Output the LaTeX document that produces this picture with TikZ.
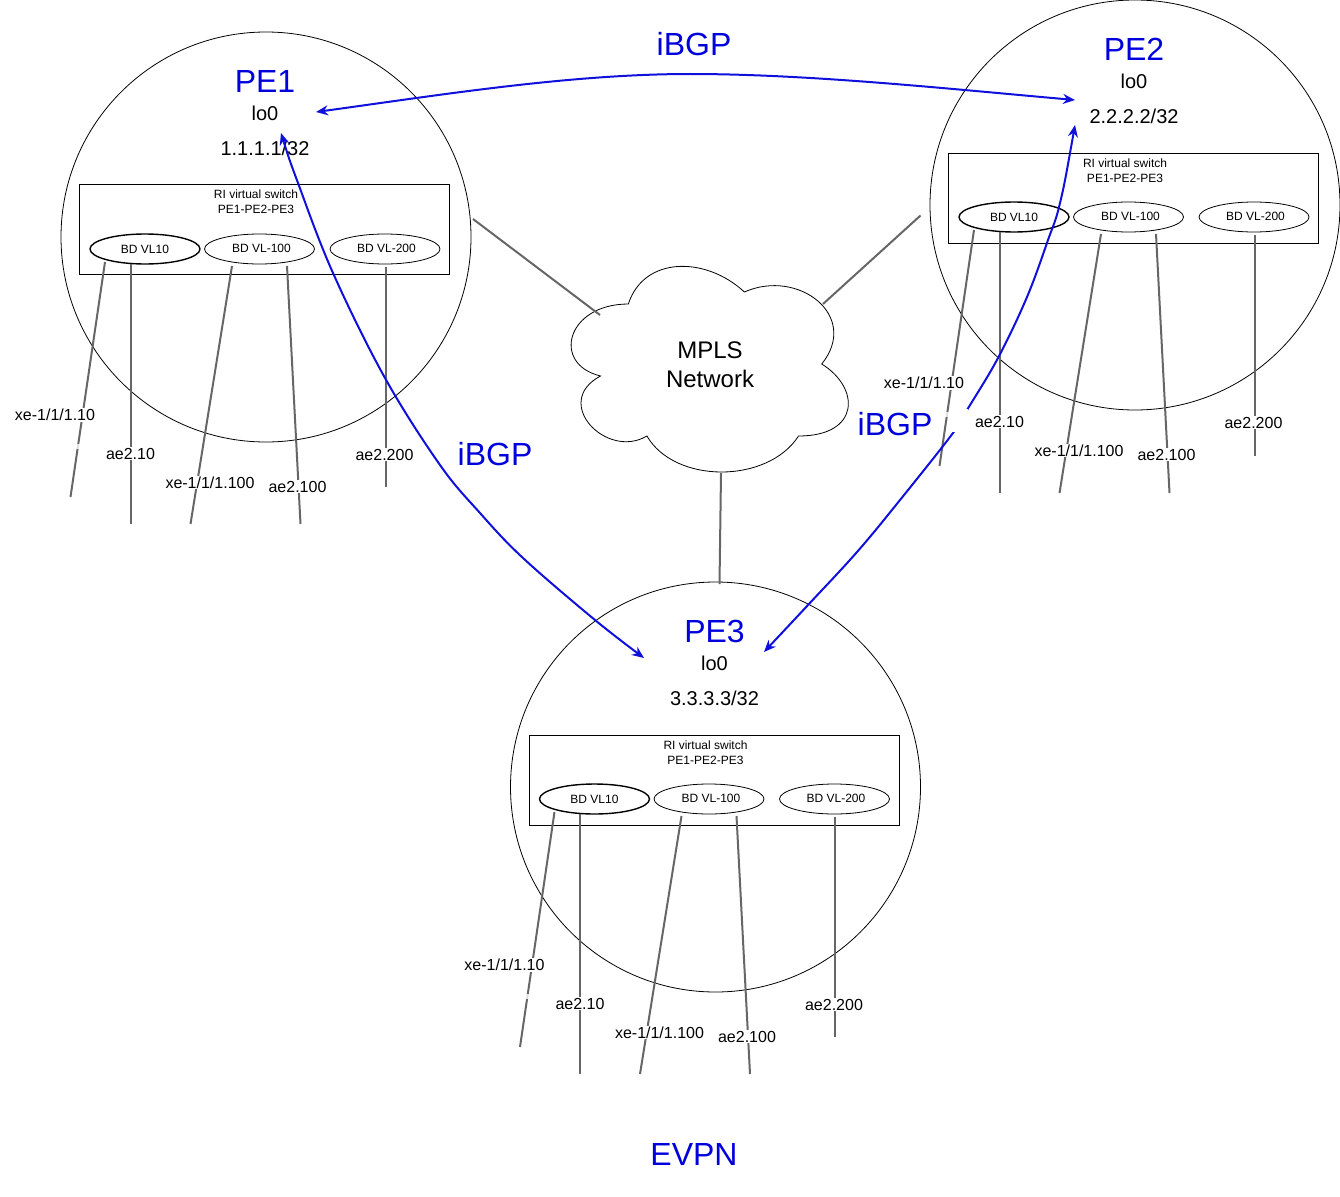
\documentclass[tikz,border=0pt]{standalone}
\usepackage{fontspec}
\setmainfont{Liberation Sans}
\usetikzlibrary{arrows.meta,shapes.geometric}
\definecolor{ibgp}{HTML}{0000DD}
\definecolor{wire}{HTML}{666666}
\definecolor{curve}{HTML}{1010DD}
\tikzset{
  x=1pt,y=-1pt,
  pecircle/.style={draw=black,line width=0.8pt,circle,minimum size=410pt,inner sep=0pt},
  ribox/.style={draw=black,line width=0.9pt,minimum width=370pt,minimum height=90pt,inner sep=0pt},
  bd/.style={draw=black,line width=0.8pt,ellipse,minimum width=110pt,minimum height=30pt,inner sep=0pt},
  bdb/.style={bd,line width=1.4pt},
  wireline/.style={draw=wire,line width=2pt},
  bgp/.style={draw=curve,line width=2pt,{Stealth[length=12pt,width=10pt]}-{Stealth[length=12pt,width=10pt]}},
  tiny/.style={font=\fontsize{12}{15}\selectfont,align=center,inner sep=0pt},
  iflabel/.style={font=\fontsize{16}{19}\selectfont,inner sep=1pt,fill=white},
  lolabel/.style={font=\fontsize{20}{24}\selectfont,inner sep=0pt},
  big/.style={font=\fontsize{32}{38}\selectfont,text=ibgp,inner sep=0pt},
  faint/.style={fill=white,opacity=0.8},
}
% #1 prefix, #2 dx, #3 dy, #4 name, #5 address, #6 extra dy of the box, #7 extra dy of the line ends
\newcommand{\pegroup}[7]{%
  \begin{scope}[shift={(#2,#3)}]
    \node[pecircle] (#1c) at (266,237) {};
    \node[ribox] (#1box) at (264.7,{229+#6}) {};
    \node[tiny] (#1ri) at (256,{201.5+#6}) {RI virtual switch\\PE1-PE2-PE3};
    \node[bdb] (#1a) at (145,249) {};
    \node[tiny] (#1at) at (145,249.5) {BD VL10};
    \node[bd] (#1b) at (259.5,249) {};
    \node[tiny] (#1bt) at (261.5,248) {BD VL-100};
    \node[bd] (#1d) at (385,249) {};
    \node[tiny] (#1dt) at (386.5,248) {BD VL-200};
    \coordinate (#1p1) at (105,262); \coordinate (#1q1) at (70.5,{497+#7});
    \coordinate (#1p2) at (130.5,264); \coordinate (#1q2) at (130.5,{524+#7});
    \coordinate (#1p3) at (232,266); \coordinate (#1q3) at (190.5,{524+#7});
    \coordinate (#1p4) at (287,266); \coordinate (#1q4) at (300.5,{524+#7});
    \coordinate (#1p5) at (385.5,267); \coordinate (#1q5) at (385.5,{487+#7});
    \foreach \i in {1,...,5} {\draw[wireline] (#1p\i) -- (#1q\i);}
    \node[iflabel] (#1l1) at (55,415) {xe-1/1/1.10};
    \node[iflabel] (#1l2) at (130.5,453.5) {ae2.10};
    \node[iflabel] (#1l3) at (210,482.5) {xe-1/1/1.100};
    \node[iflabel] (#1l4) at (297.5,486.5) {ae2.100};
    \node[iflabel] (#1l5) at (384.5,454.5) {ae2.200};
    \fill[faint] (73,443.5) rectangle (82,449);
    \node[big] (#1name) at (265,81) {#4};
    \node[lolabel] (#1lo) at (265,113.5) {lo0};
    \node[lolabel] (#1ip) at (265,148.5) {#5};
    \coordinate (#1up) at (473,219);
  \end{scope}}
\begin{document}
\begin{tikzpicture}
\useasboundingbox (0,0) rectangle (1340,1196);
\pegroup{A}{0}{0}{PE1}{1.1.1.1/32}{0}{0}
\pegroup{B}{869}{-32}{PE2}{2.2.2.2/32}{1}{1}
\pegroup{C}{449.5}{550}{PE3}{3.3.3.3/32}{1}{0}
% cloud
\begin{scope}[shift={(551,244)},x=3.094pt,y=-2.4pt]
  \draw[black,line width=0.8pt,fill=white] (25,25) .. controls (5,25) and (0,50) .. (16,55)
    .. controls (0,66) and (18,90) .. (31,80)
    .. controls (40,100) and (70,100) .. (80,80)
    .. controls (100,80) and (100,60) .. (87.5,50)
    .. controls (100,30) and (80,10) .. (62.5,20)
    .. controls (50,5) and (30,5) .. (25,25) -- cycle;
\end{scope}
\node[font=\fontsize{24}{29}\selectfont,align=center,inner sep=0pt] (mpls) at (710,364.5) {MPLS\\Network};
\coordinate (c1) at (600,315);
\coordinate (c2) at (823,304);
\coordinate (c3) at (721,473);
\coordinate (up2) at (920.5,215.5);
\coordinate (down3) at (719.5,584);
\draw[wireline] (Aup) -- (c1);
\draw[wireline] (up2) -- (c2);
\draw[wireline] (c3) -- (down3);
% iBGP curves
\coordinate (a1) at (316,112);
\coordinate (b1) at (1075,100);
\coordinate (a2) at (281,133);
\coordinate (c4) at (644,658);
\coordinate (b2) at (1075,125);
\coordinate (c5) at (764,652);
\coordinate (m1) at (690,74);
\draw[bgp] (a1) .. controls (440,95) and (570,74) .. (m1) .. controls (810,74) and (950,89) .. (b1);
\draw[bgp] plot[smooth,tension=0.6] coordinates {(a2) (298,183) (333,273) (385,378) (440,465) (480,513) (523,558) (595,620) (c4)};
\draw[bgp] plot[smooth,tension=0.6] coordinates {(b2) (1060,203) (1048,240) (1027,297) (998,358) (967,410) (953,433) (900,500) (857,552) (808,605) (c5)};
\fill[white] (950,409) rectangle (968,432);
\node[big] (t1) at (694,44) {iBGP};
\node[big] (t2) at (495,454.5) {iBGP};
\node[big] (t3) at (895,424.5) {iBGP};
\node[big] (t4) at (694,1154.5) {EVPN};
\end{tikzpicture}
\end{document}
